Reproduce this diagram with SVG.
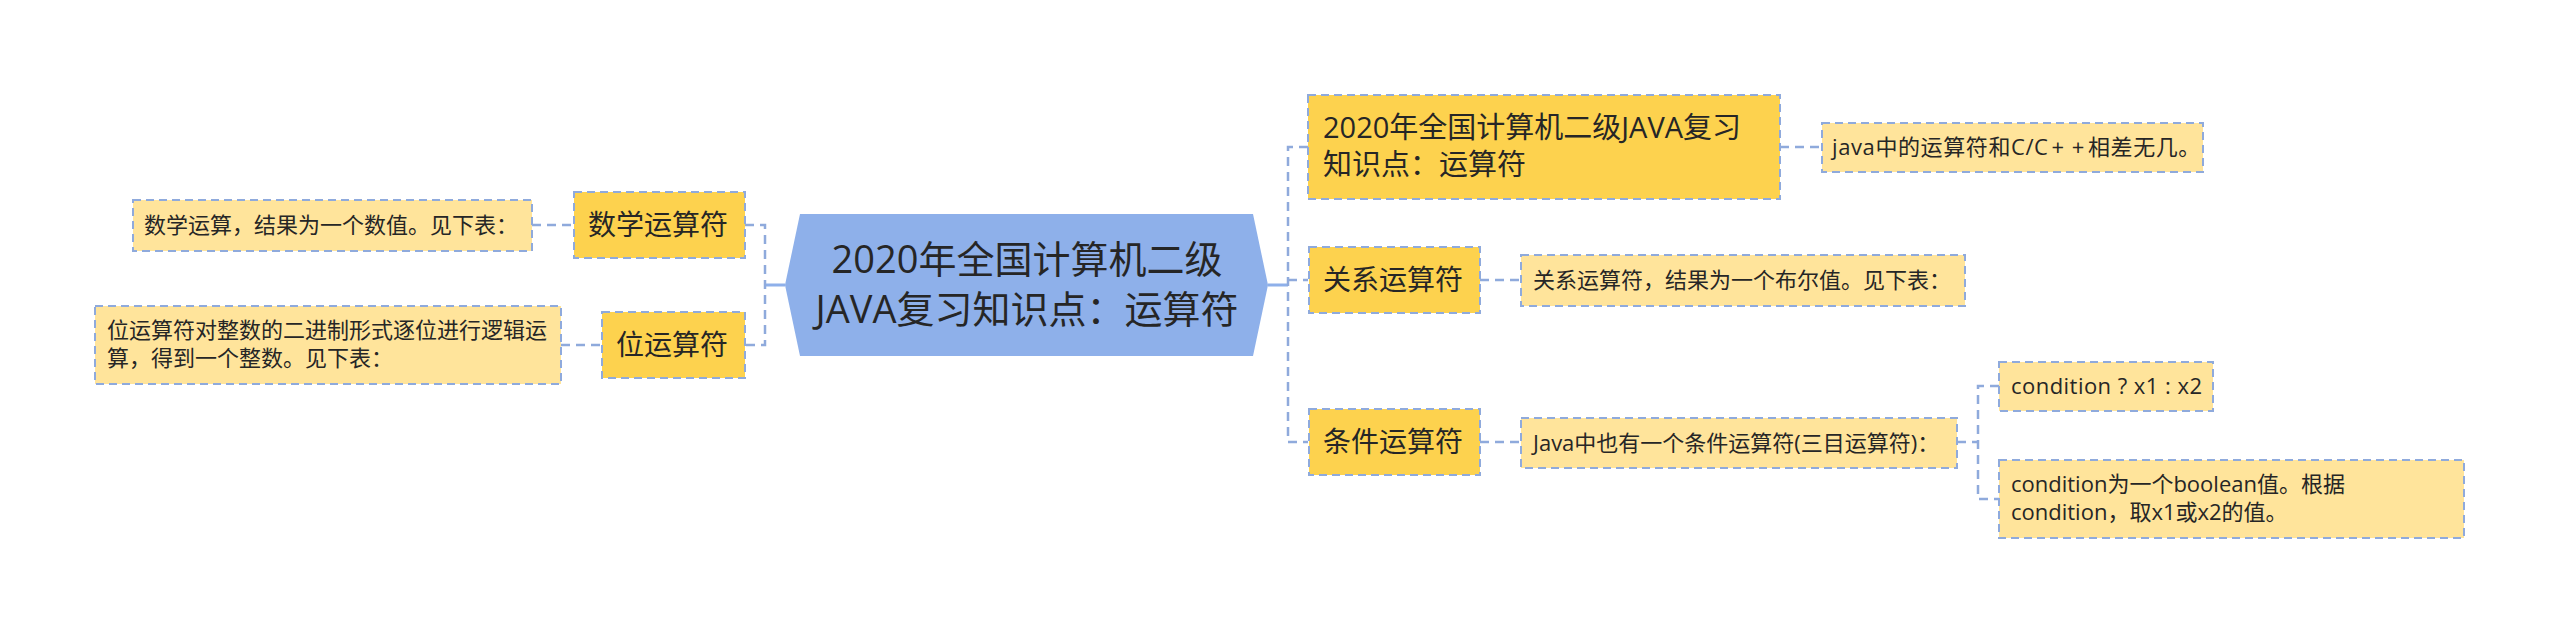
<svg xmlns="http://www.w3.org/2000/svg" width="2560" height="634" viewBox="0 0 2560 634">
<style>
text{font-family:"Open Sans","Noto Sans CJK SC","Microsoft YaHei",sans-serif;fill:#262626}
.main{fill:#FDD24E;stroke:#8FAADC;stroke-width:2;stroke-dasharray:8 5}
.desc{fill:#FFE49B;stroke:#8FAADC;stroke-width:2;stroke-dasharray:8 5}
.t28{font-size:28px}
.t22{font-size:22px}
.conn{fill:none;stroke:#8FAADC;stroke-width:2.5;stroke-dasharray:9 6}
.solid{fill:none;stroke:#8EB0EA;stroke-width:3}
</style>
<rect width="2560" height="634" fill="#ffffff"/>
<g id="connectors">
<path class="solid" d="M785 285H765M1268 285H1288"/>
<path class="conn" d="M745 225H765V345H745"/>
<path class="conn" d="M532 225H574M561 345H602"/>
<path class="conn" d="M1308 147H1288V442H1308M1288 280H1308"/>
<path class="conn" d="M1780 147H1822M1480 280H1521M1480 442H1521"/>
<path class="conn" d="M1957 442H1978M1999 386H1978V499H1999"/>
</g>
<g id="root">
<polygon points="785,285 800,214 1253,214 1268,285 1253,356 800,356" fill="#8EB0EA"/>
<text x="1027" y="273" font-size="38" text-anchor="middle">2020年全国计算机二级</text>
<text x="1027" y="323" font-size="38" text-anchor="middle">JAVA复习知识点：运算符</text>
</g>
<g id="n-math">
<rect class="main" x="574" y="192" width="171" height="66"/>
<text class="t28" x="588" y="235">数学运算符</text>
</g>
<g id="n-math-desc">
<rect class="desc" x="133" y="200" width="399" height="51"/>
<text class="t22" x="144" y="233">数学运算，结果为一个数值。见下表：</text>
</g>
<g id="n-bit">
<rect class="main" x="602" y="312" width="143" height="66"/>
<text class="t28" x="616" y="355">位运算符</text>
</g>
<g id="n-bit-desc">
<rect class="desc" x="95" y="306" width="466" height="78"/>
<text class="t22" x="107" y="338">位运算符对整数的二进制形式逐位进行逻辑运</text>
<text class="t22" x="107" y="366">算，得到一个整数。见下表：</text>
</g>
<g id="n-title">
<rect class="main" x="1308" y="95" width="472" height="104"/>
<text x="1323" y="138" font-size="29">2020年全国计算机二级JAVA复习</text>
<text x="1323" y="175" font-size="29">知识点：运算符</text>
</g>
<g id="n-title-desc">
<rect class="desc" x="1822" y="123" width="381" height="49"/>
<text class="t22" x="1832" y="155" letter-spacing="0.6">java中的运算符和C/C<tspan dx="3">+</tspan><tspan dx="7">+</tspan><tspan dx="3">相差无几。</tspan></text>
</g>
<g id="n-rel">
<rect class="main" x="1309" y="247" width="171" height="66"/>
<text class="t28" x="1323" y="290">关系运算符</text>
</g>
<g id="n-rel-desc">
<rect class="desc" x="1521" y="255" width="444" height="51"/>
<text class="t22" x="1533" y="288">关系运算符，结果为一个布尔值。见下表：</text>
</g>
<g id="n-cond">
<rect class="main" x="1309" y="409" width="171" height="66"/>
<text class="t28" x="1323" y="452">条件运算符</text>
</g>
<g id="n-cond-desc">
<rect class="desc" x="1521" y="418" width="436" height="50"/>
<text class="t22" x="1533" y="451">Java中也有一个条件运算符(三目运算符)：</text>
</g>
<g id="n-cond-expr">
<rect class="desc" x="1999" y="362" width="214" height="49"/>
<text class="t22" x="2011" y="394" textLength="191" lengthAdjust="spacing">condition ? x1 : x2</text>
</g>
<g id="n-cond-explain">
<rect class="desc" x="1999" y="460" width="465" height="78"/>
<text class="t22" x="2011" y="492">condition为一个boolean值。根据</text>
<text class="t22" x="2011" y="520">condition，取x1或x2的值。</text>
</g>
</svg>
